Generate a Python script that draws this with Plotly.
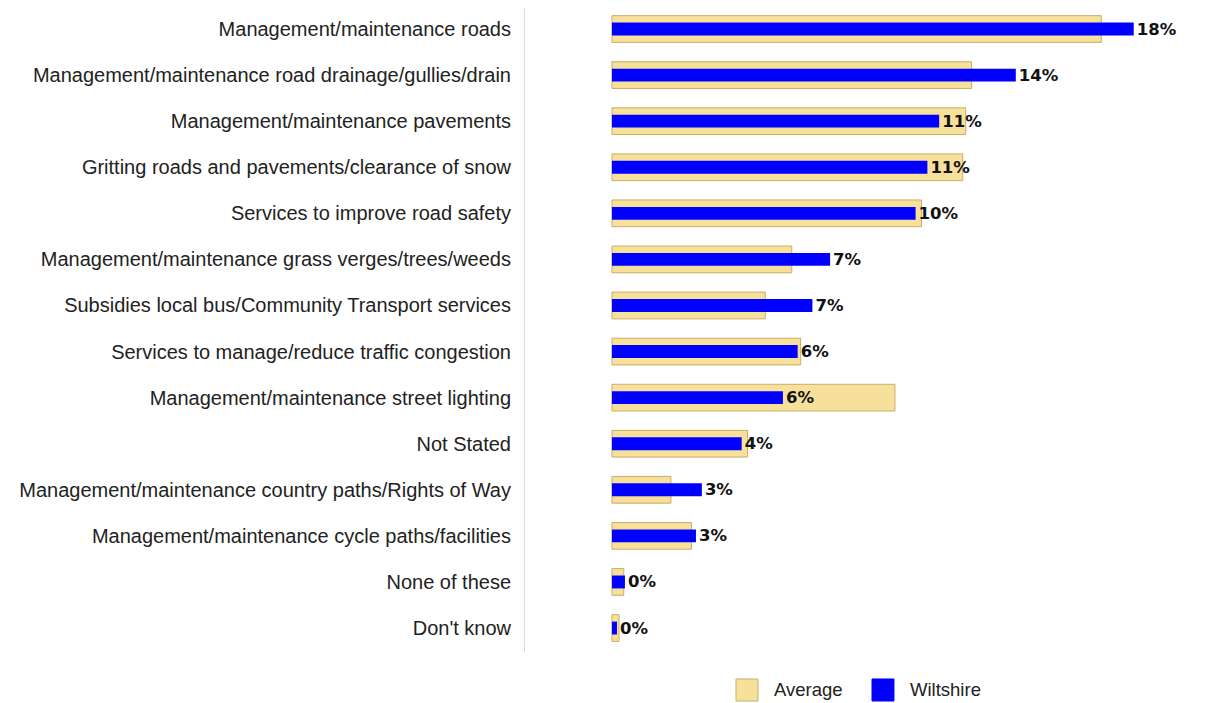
import plotly.graph_objects as go

categories = [
    "Management/maintenance roads",
    "Management/maintenance road drainage/gullies/drain",
    "Management/maintenance pavements",
    "Gritting roads and pavements/clearance of snow",
    "Services to improve road safety",
    "Management/maintenance grass verges/trees/weeds",
    "Subsidies local bus/Community Transport services",
    "Services to manage/reduce traffic congestion",
    "Management/maintenance street lighting",
    "Not Stated",
    "Management/maintenance country paths/Rights of Way",
    "Management/maintenance cycle paths/facilities",
    "None of these",
    "Don't know",
]
average = [16.6, 12.2, 12.0, 11.9, 10.5, 6.1, 5.2, 6.4, 9.6, 4.6, 2.0, 2.7, 0.4, 0.24]
wiltshire = [17.7, 13.7, 11.1, 10.7, 10.3, 7.4, 6.8, 6.3, 5.8, 4.4, 3.05, 2.85, 0.44, 0.17]
wiltshire_labels = ["18%", "14%", "11%", "11%", "10%", "7%", "7%", "6%", "6%", "4%", "3%", "3%", "0%", "0%"]
series_names = ["Average", "Wiltshire"]

AVG_FILL = "#F7E09A"
AVG_LINE = "#C9AE6A"
BLUE = "#0000FF"
TEXT = "#222222"

fig = go.Figure()

# wide background bars for the average
fig.add_trace(go.Bar(
    y=categories, x=average, orientation="h", name=series_names[0],
    width=0.58, marker=dict(color=AVG_FILL, line=dict(color=AVG_LINE, width=1)),
    hoverinfo="x+y",
))

# narrow foreground bars for Wiltshire with labels
fig.add_trace(go.Bar(
    y=categories, x=wiltshire, orientation="h", name=series_names[1],
    width=0.28, marker=dict(color=BLUE, line=dict(width=0)),
    text=wiltshire_labels, texttemplate="<b>%{text}</b>",
    textposition="outside", cliponaxis=False, constraintext="none",
    textfont=dict(family="DejaVu Sans", size=16.5, color="#111111"),
    hoverinfo="x+y",
))

# legend drawn by hand so the swatches are big squares like the original
swatches = [
    (0.3112, 0.3437, 0.3643, AVG_FILL, AVG_LINE),
    (0.5118, 0.5442, 0.5649, BLUE, BLUE),
]
for (x0, x1, tx, fill, edge), name in zip(swatches, series_names):
    fig.add_shape(type="rect", xref="paper", yref="paper",
                  x0=x0, x1=x1, y0=-0.0419, y1=-0.0761,
                  fillcolor=fill, line=dict(color=edge, width=1))
    fig.add_annotation(text=name, xref="paper", yref="paper", x=tx, y=-0.059,
                       xanchor="left", yanchor="middle", showarrow=False,
                       font=dict(size=18.5, color=TEXT))

fig.update_layout(
    width=1211, height=703,
    barmode="overlay",
    showlegend=False,
    paper_bgcolor="white", plot_bgcolor="white",
    font=dict(family="Liberation Sans, Arial, sans-serif", size=18, color=TEXT),
    margin=dict(l=517, r=16, t=0, b=59, autoexpand=False),
    xaxis=dict(range=[-2.95, 20.05], visible=False, fixedrange=True),
    yaxis=dict(
        range=[13.52, -0.456], showline=True, linecolor="#D9D9D9", linewidth=1,
        showgrid=False, ticks="outside", ticklen=9, tickcolor="rgba(0,0,0,0)",
        tickfont=dict(size=20, color=TEXT), fixedrange=True,
    ),
)

fig.write_html("out.html")
